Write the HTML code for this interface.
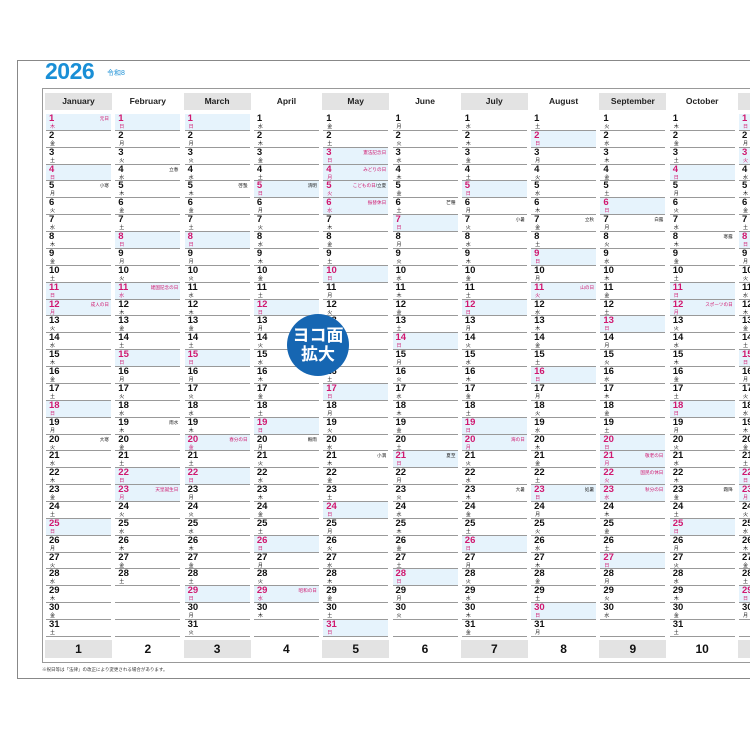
<!DOCTYPE html>
<html><head><meta charset="utf-8">
<style>
body{margin:0;width:750px;height:750px;background:#fff;overflow:hidden;position:relative;font-family:"Liberation Sans","Noto Sans CJK JP",sans-serif}
#wrap{position:absolute;left:0;top:0;width:750px;height:750px;overflow:hidden}
.a{position:absolute}
#frame{left:17px;top:60px;width:740px;height:617px;border:1px solid #888;border-right:none}
#grid{left:42px;top:88px;width:715px;height:573px;border:1px solid #999;border-right:none}
.h{height:17px;font-size:8.5px;font-weight:bold;text-align:center;line-height:17px;color:#222;overflow:hidden}
.g{background:#e3e3e3}
.c{border-bottom:1px solid #999;box-sizing:border-box;overflow:hidden}
.c.s{background:#e6f3fc}
.n{position:absolute;left:3px;top:0;font-size:9.5px;font-weight:bold;line-height:10px;color:#111}
.w{position:absolute;left:4px;top:10px;font-size:5px;line-height:6px;color:#111}
.r .n,.r .w{color:#d0186f}
.l{position:absolute;right:2px;top:2px;font-size:4.6px;color:#222;white-space:nowrap}
.l.p{color:#d0186f}
.b{height:18px;font-size:12px;font-weight:bold;text-align:center;line-height:18px;color:#111;overflow:hidden}
</style></head><body>
<div id="wrap">
<div class="a" id="frame"></div>
<div class="a" id="grid"></div>
<div class="a" style="left:45px;top:58px;font-size:23px;font-weight:bold;color:#1a8fd6;letter-spacing:-0.5px">2026</div>
<div class="a" style="left:107px;top:68px;font-size:7px;color:#1a8fd6">令和8</div>
<div class="a" style="left:42px;top:667px;font-size:4.5px;color:#333">※祝日等は「法律」の改正により変更される場合があります。</div>
<div id="cal"></div>
<div class="a" style="left:287px;top:314px;width:62px;height:62px;border-radius:50%;background:#1666b2;color:#fff;font-size:17px;font-weight:bold;text-align:center;line-height:19px;padding-top:12px;box-sizing:border-box">ヨコ面<br>拡大</div>
</div>
<script>
var months=["January","February","March","April","May","June","July","August","September","October","",""];
var wd=["日","月","火","水","木","金","土"];
var hol={"1-1":"元日","1-12":"成人の日","2-11":"建国記念の日","2-23":"天皇誕生日","3-20":"春分の日","4-29":"昭和の日","5-3":"憲法記念日","5-4":"みどりの日","5-5":"こどもの日/立夏","5-6":"振替休日","7-20":"海の日","8-11":"山の日","9-21":"敬老の日","9-22":"国民の休日","9-23":"秋分の日","10-12":"スポーツの日","11-3":"文化の日","11-23":"勤労感謝の日"};
var sek={"1-5":"小寒","1-20":"大寒","2-4":"立春","2-19":"雨水","3-5":"啓蟄","4-5":"清明","4-20":"穀雨","5-21":"小満","6-6":"芒種","6-21":"夏至","7-7":"小暑","7-23":"大暑","8-7":"立秋","8-23":"処暑","9-7":"白露","10-8":"寒露","10-23":"霜降"};
var dim=[31,28,31,30,31,30,31,31,30,31,30,31];
var h="";
for(var m=0;m<11;m++){
 var x=45+m*69.3, g=(m%2==0)?" g":"";
 var wdt=Math.min(67,750-x), cw=Math.min(65,749-x);
 h+='<div class="a h'+g+'" style="left:'+x+'px;top:93px;width:'+wdt+'px">'+months[m]+'</div>';
 h+='<div class="a b'+g+'" style="left:'+x+'px;top:640px;width:'+wdt+'px">'+(m<10?(m+1):'')+'</div>';
 for(var d=1;d<=31;d++){
  var y=114+(d-1)*16.87;
  if(d>dim[m]){h+='<div class="a c" style="left:'+(x+1)+'px;top:'+y+'px;width:'+cw+'px;height:16.87px"></div>';continue;}
  var dw=new Date(2026,m,d).getDay(), k=(m+1)+"-"+d;
  var isH=hol[k]!==undefined, red=isH||dw==0;
  var lab=hol[k]?'<span class="l p">'+hol[k]+'</span>':(sek[k]?'<span class="l">'+sek[k]+'</span>':'');
  if(k=="5-5")lab='<span class="l"><span style="color:#d0186f">こどもの日</span>/立夏</span>';
  if(m==10)lab='';
  h+='<div class="a c'+(red?' s r':'')+'" style="left:'+(x+1)+'px;top:'+y+'px;width:'+cw+'px;height:16.87px"><span class="n">'+d+'</span><span class="w">'+wd[dw]+'</span>'+lab+'</div>';
 }
}
document.getElementById("cal").innerHTML=h;
</script>
</body></html>
